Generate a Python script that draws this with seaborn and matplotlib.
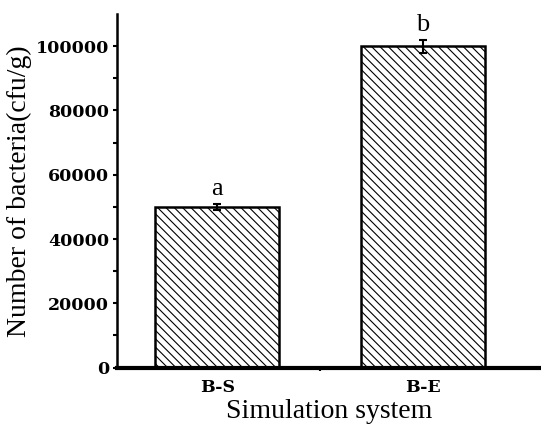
import matplotlib
matplotlib.use("Agg")
import matplotlib.pyplot as plt
import seaborn as sns
import pandas as pd

# data
systems = ["B-S", "B-E"]
counts = [50000, 100000]
errors = [1000, 2000]
letters = ["a", "b"]

sns.set_theme(style="ticks")
plt.rcParams['font.family'] = ['Liberation Serif', 'DejaVu Serif']
plt.rcParams['hatch.linewidth'] = 0.8
plt.rcParams['text.color'] = 'black'
plt.rcParams['axes.labelcolor'] = 'black'
plt.rcParams['xtick.color'] = 'black'
plt.rcParams['ytick.color'] = 'black'

df = pd.DataFrame({'system': systems, 'count': counts})

fig = plt.figure(figsize=(5.41, 4.26), dpi=100)
ax = fig.add_axes([0.217, 0.137, 0.783, 0.83])

sns.barplot(data=df, x='system', y='count', ax=ax, color='white',
            edgecolor='black', linewidth=1.8, width=0.6, hatch='\\\\\\\\')
ax.errorbar(range(len(systems)), counts, yerr=errors, fmt='none',
            ecolor='black', elinewidth=1.5, capsize=3, capthick=1.5)
for i, (c, e, t) in enumerate(zip(counts, errors, letters)):
    ax.text(i, c + e + 1200, t, ha='center', va='bottom', fontsize=19)

ax.set_xlim(-0.485, 1.573)
ax.set_ylim(0, 110000)
ax.set_yticks([0, 20000, 40000, 60000, 80000, 100000])
ax.set_yticks(range(10000, 110000, 20000), minor=True)
ax.set_xticks([0.5], minor=True)

sns.despine(ax=ax)
for s in ['left', 'bottom']:
    ax.spines[s].set_color('black')
ax.spines['left'].set_linewidth(1.8)
ax.spines['bottom'].set_linewidth(3)
ax.tick_params(axis='y', which='both', direction='out', length=3, width=1.5,
               labelsize=12.5, pad=3)
ax.tick_params(axis='x', which='major', length=0, labelsize=12.5, pad=8)
ax.tick_params(axis='x', which='minor', direction='out', length=2, width=1.5)
for lab in ax.get_xticklabels() + ax.get_yticklabels():
    lab.set_fontweight('bold')
    lab.set_family('DejaVu Serif')

ax.set_xlabel('Simulation system', fontsize=20, labelpad=2)
ax.set_ylabel('Number of bacteria(cfu/g)', fontsize=20, labelpad=3)

fig.savefig('out.png', dpi=100)
